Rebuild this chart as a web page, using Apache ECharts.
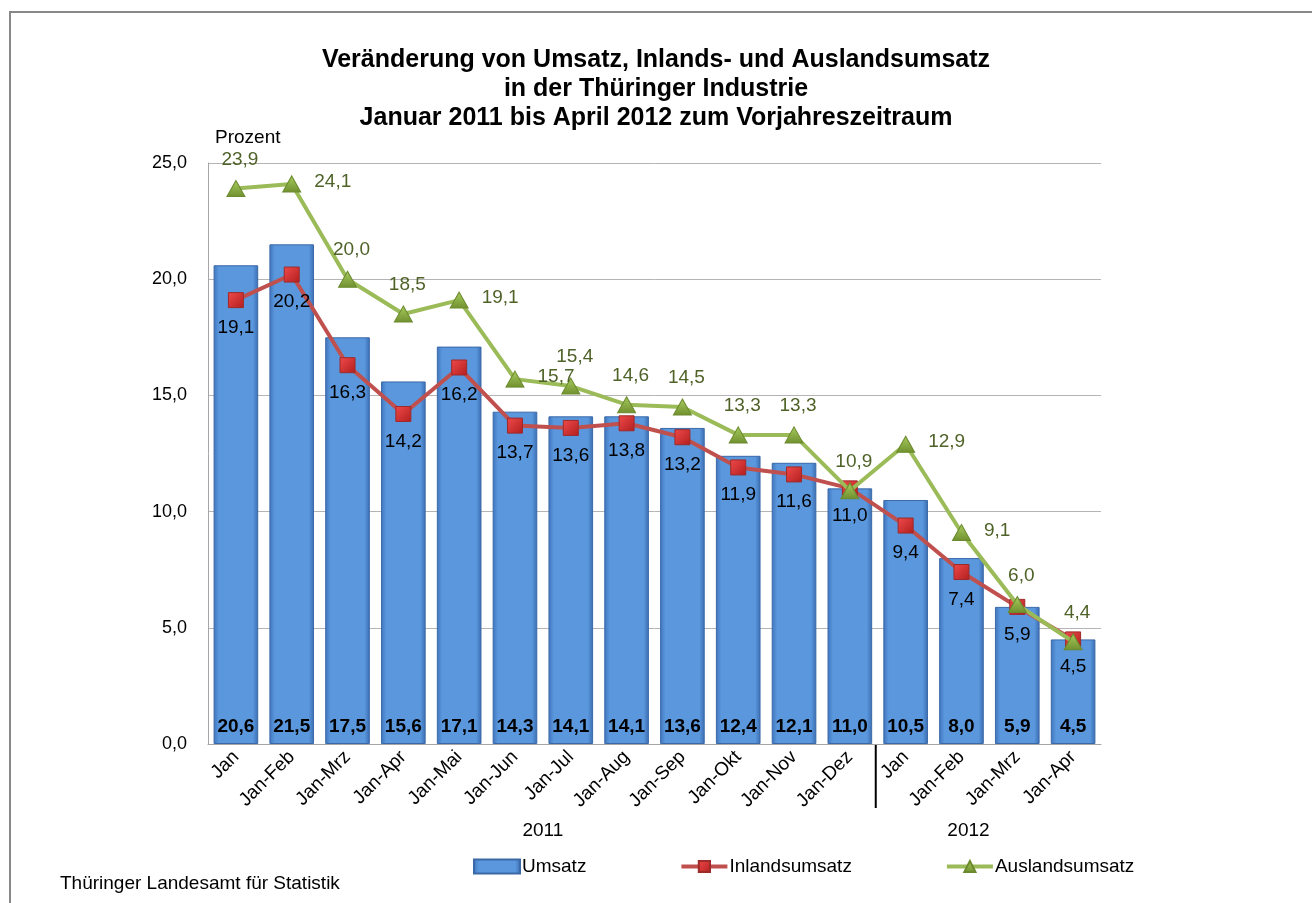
<!DOCTYPE html>
<html>
<head>
<meta charset="utf-8">
<script src="https://cdn.jsdelivr.net/npm/echarts@6/dist/echarts.min.js"></script>
<style>
html,body{margin:0;padding:0;background:#fff;}
#main{width:1312px;height:903px;}
</style>
</head>
<body>
<div id="main"></div>
<script>
const categories = ['Jan','Jan-Feb','Jan-Mrz','Jan-Apr','Jan-Mai','Jan-Jun','Jan-Jul','Jan-Aug','Jan-Sep','Jan-Okt','Jan-Nov','Jan-Dez','Jan','Jan-Feb','Jan-Mrz','Jan-Apr'];
const umsatz = [20.6,21.5,17.5,15.6,17.1,14.3,14.1,14.1,13.6,12.4,12.1,11.0,10.5,8.0,5.9,4.5];
const inlandsumsatz = [19.1,20.2,16.3,14.2,16.2,13.7,13.6,13.8,13.2,11.9,11.6,11.0,9.4,7.4,5.9,4.5];
const auslandsumsatz = [23.9,24.1,20.0,18.5,19.1,15.7,15.4,14.6,14.5,13.3,13.3,10.9,12.9,9.1,6.0,4.4];
const years = ['2011','2012'];

// label placement styles for the Auslandsumsatz series (style only)
const ausLabelPos = ['top','right','top','top','right','right','top','top','top','top','top','top','right','right','top','top'];

const FONT = '"Liberation Sans", Arial, sans-serif';
const fmt = v => Number(v).toFixed(1).replace('.', ',');

const chart = echarts.init(document.getElementById('main'), null, {renderer:'canvas'});

const barColor = new echarts.graphic.LinearGradient(0,0,1,0,[
  {offset:0,color:'#3f74bd'},
  {offset:0.12,color:'#5a97dd'},
  {offset:0.88,color:'#5a97dd'},
  {offset:1,color:'#3a6cb0'}
]);

const option = {
  animation:false,
  backgroundColor:'#ffffff',
  textStyle:{fontFamily:FONT},
  title:{
    text:'Veränderung von Umsatz, Inlands- und Auslandsumsatz\nin der Thüringer Industrie\nJanuar 2011 bis April 2012 zum Vorjahreszeitraum',
    left:'center',
    top:46,
    padding:0,
    textStyle:{fontFamily:FONT,fontSize:25,fontWeight:'bold',color:'#000',lineHeight:29}
  },
  legend:{
    left:473,
    top:857,
    padding:0,
    itemWidth:46,
    itemHeight:14,
    itemGap:93,
    lineStyle:{width:4},
    textStyle:{fontFamily:FONT,fontSize:19,color:'#000',padding:[0,0,0,-3]},
    data:[{name:'Umsatz',icon:'rect'},{name:'Inlandsumsatz'},{name:'Auslandsumsatz'}]
  },
  grid:{left:208,right:211,top:163,bottom:159,containLabel:false},
  xAxis:{
    type:'category',
    data:categories,
    axisLine:{show:true,lineStyle:{color:'#a6a6a6',width:1}},
    axisTick:{show:false},
    axisLabel:{rotate:45,fontSize:19,color:'#000',fontFamily:FONT,margin:10,interval:0}
  },
  yAxis:{
    type:'value',
    min:0,max:25,interval:5,
    axisLine:{show:true,lineStyle:{color:'#a6a6a6'}},
    axisTick:{show:false},
    splitLine:{show:true,lineStyle:{color:'#b4b4b4',width:1}},
    axisLabel:{formatter:v=>fmt(v),fontSize:18,color:'#000',fontFamily:FONT,margin:21}
  },
  series:[
    {
      name:'Umsatz',
      type:'bar',
      data:umsatz,
      barCategoryGap:'20%',
      itemStyle:{color:barColor,borderColor:'#3b69a8',borderWidth:1},
      label:{show:true,position:'insideBottom',distance:8,formatter:p=>fmt(p.value),fontFamily:FONT,fontSize:19,fontWeight:'bold',color:'#000'},
      z:1
    },
    {
      name:'Inlandsumsatz',
      type:'line',
      data:inlandsumsatz,
      symbol:'rect',
      symbolSize:15,
      lineStyle:{color:'#c0504d',width:4},
      itemStyle:{color:new echarts.graphic.LinearGradient(0,0,1,1,[{offset:0,color:'#f04a4a'},{offset:1,color:'#b21e1e'}]),borderColor:'#9e2a2a',borderWidth:1},
      label:{show:true,position:'bottom',distance:10,formatter:p=>fmt(p.value),fontFamily:FONT,fontSize:19,color:'#000'},
      z:3
    },
    {
      name:'Auslandsumsatz',
      type:'line',
      data:auslandsumsatz.map((v,i)=>({value:v,label:{position:ausLabelPos[i]}})),
      symbol:'triangle',
      symbolSize:[18,16],
      lineStyle:{color:'#9bbb59',width:4},
      itemStyle:{color:new echarts.graphic.LinearGradient(0,0,0,1,[{offset:0,color:'#a8cc5e'},{offset:1,color:'#6f8f2e'}]),borderColor:'#6b8a2e',borderWidth:1},
      label:{show:true,position:'top',distance:9,offset:[4,-2],formatter:p=>fmt(p.value),fontFamily:FONT,fontSize:19,color:'#4f6228'},
      z:4
    }
  ]
};
chart.setOption(option);

// separator between years and year labels, positioned via the axis scale
const xEnd2011 = chart.convertToPixel({xAxisIndex:0}, 11);
const xStart2012 = chart.convertToPixel({xAxisIndex:0}, 12);
const sepX = (xEnd2011 + xStart2012) / 2 - 2;
const y0 = chart.convertToPixel({yAxisIndex:0}, 0);
const mid2011 = (chart.convertToPixel({xAxisIndex:0}, 0) + chart.convertToPixel({xAxisIndex:0}, 11)) / 2;
const mid2012 = chart.convertToPixel({xAxisIndex:0}, 13) + 7;

chart.setOption({
  graphic:[
    {type:'rect',shape:{x:10,y:12,width:1400,height:1000},style:{fill:null,stroke:'#888',lineWidth:2},silent:true,z:-10},
    {type:'line',shape:{x1:sepX,y1:y0,x2:sepX,y2:y0+64},style:{stroke:'#000',lineWidth:2}},
    {type:'text',x:mid2011,y:831,style:{text:years[0],fill:'#000',font:'19px '+FONT,textAlign:'center',textVerticalAlign:'middle'}},
    {type:'text',x:mid2012,y:831,style:{text:years[1],fill:'#000',font:'19px '+FONT,textAlign:'center',textVerticalAlign:'middle'}},
    {type:'text',x:215,y:138,style:{text:'Prozent',fill:'#000',font:'19px '+FONT,textAlign:'left',textVerticalAlign:'middle'}},
    {type:'text',x:60,y:884,style:{text:'Thüringer Landesamt für Statistik',fill:'#000',font:'19px '+FONT,textAlign:'left',textVerticalAlign:'middle'}}
  ]
});
</script>
</body>
</html>
